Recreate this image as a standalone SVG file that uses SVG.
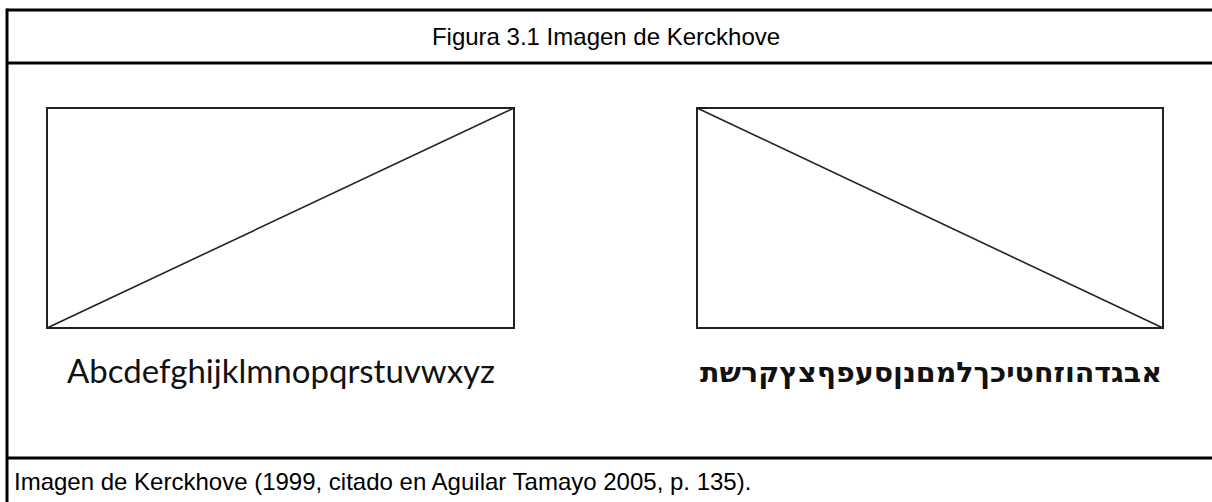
<svg xmlns="http://www.w3.org/2000/svg" width="1212" height="502" viewBox="0 0 1212 502">
<style>
.frame{stroke:#000;stroke-width:3;fill:none}
.box{stroke:#222;stroke-width:2;fill:none}
.diag{stroke:#222;stroke-width:1.6}
.cap{font-family:"Liberation Sans",Arial,sans-serif;font-size:24px;fill:#000}
</style>
<rect width="1212" height="502" fill="#fff"/>
<g id="frame">
<line class="frame" x1="7" y1="10" x2="1212" y2="10"/>
<line class="frame" x1="7" y1="8.5" x2="7" y2="502"/>
<line class="frame" x1="7" y1="63" x2="1212" y2="63"/>
<line class="frame" x1="7" y1="458" x2="1212" y2="458"/>
</g>
<g id="title"><text class="cap" x="606" y="45" text-anchor="middle">Figura 3.1 Imagen de Kerckhove</text></g>
<g id="left-figure">
<rect class="box" x="47" y="108" width="467" height="220"/>
<line class="diag" x1="47" y1="328" x2="514" y2="108"/>
<text x="67" y="383" font-family="Lato,'Open Sans',sans-serif" font-size="32" fill="#111" textLength="428" lengthAdjust="spacingAndGlyphs">Abcdefghijklmnopqrstuvwxyz</text>
</g>
<g id="right-figure">
<rect class="box" x="697" y="108" width="466" height="220"/>
<line class="diag" x1="697" y1="108" x2="1163" y2="328"/>
<text x="700" y="382" font-family="'DejaVu Sans','Liberation Sans',sans-serif" font-weight="bold" font-size="28" fill="#111" textLength="462" lengthAdjust="spacingAndGlyphs">אבגדהוזחטיכךלמםנןסעפףצץקרשת</text>
</g>
<g id="footer"><text class="cap" x="14" y="490">Imagen de Kerckhove (1999, citado en Aguilar Tamayo 2005, p. 135).</text></g>
</svg>
